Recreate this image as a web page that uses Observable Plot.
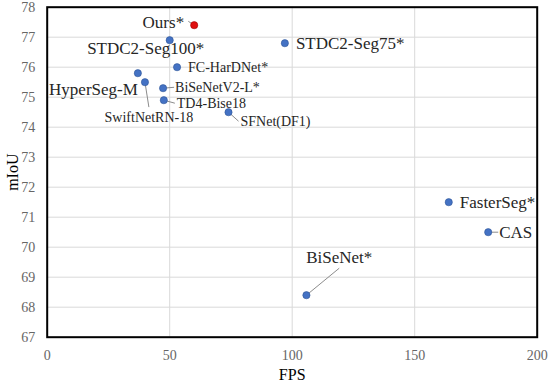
<!DOCTYPE html>
<html><head><meta charset="utf-8">
<script src="https://cdn.jsdelivr.net/npm/d3@7"></script>
<script src="https://cdn.jsdelivr.net/npm/@observablehq/plot@0.6"></script>
<style>
body{margin:0;background:#fff}
svg, svg text{font-family:"Liberation Serif","DejaVu Serif",serif !important}
svg [aria-label="x-axis label"] text, svg [aria-label="y-axis label"] text{fill:#000;font-size:16px}
</style>
</head><body><div id="chart"></div>
<script>
const models = ["Ours*","STDC2-Seg100*","STDC2-Seg75*","FC-HarDNet*","HyperSeg-M","SwiftNetRN-18","BiSeNetV2-L*","TD4-Bise18","SFNet(DF1)","FasterSeg*","CAS","BiSeNet*"];
const fps  = [60, 50, 97, 53, 37, 39.9, 47.3, 47.6, 74, 163.9, 180, 105.8];
const miou = [77.4, 76.9, 76.8, 76.0, 75.8, 75.5, 75.3, 74.9, 74.5, 71.5, 70.5, 68.4];
const xTicks = [0, 50, 100, 150, 200];
const yTicks = [67, 68, 69, 70, 71, 72, 73, 74, 75, 76, 77, 78];

// annotation layout (offsets in data units from each point)
const layout = {
  "Ours*":         {ox: -4.1, oy: 0.1,   anchor: "end",    size: 17, lead: [-2.4, 0.13]},
  "STDC2-Seg100*": {ox: -9.8, oy: -0.27, anchor: "middle", size: 17},
  "STDC2-Seg75*":  {ox: 4.5,  oy: 0,     anchor: "start",  size: 17},
  "FC-HarDNet*":   {ox: 4.5,  oy: 0,     anchor: "start",  size: 14},
  "HyperSeg-M":    {ox: 0,    oy: -0.53, anchor: "end",    size: 17},
  "SwiftNetRN-18": {ox: 1.6,  oy: -1.17, anchor: "middle", size: 14, lead: [1.6, -0.83]},
  "BiSeNetV2-L*":  {ox: 4.9,  oy: 0.03,  anchor: "start",  size: 14, lead: [4.5, 0.03]},
  "TD4-Bise18":    {ox: 5.3,  oy: -0.1,  anchor: "start",  size: 14, lead: [4.5, -0.1]},
  "SFNet(DF1)":    {ox: 4.9,  oy: -0.3,  anchor: "start",  size: 14, lead: [4.1, -0.3]},
  "FasterSeg*":    {ox: 4.5,  oy: 0,     anchor: "start",  size: 17},
  "CAS":           {ox: 4.5,  oy: 0,     anchor: "start",  size: 17, lead: [4.1, 0]},
  "BiSeNet*":      {ox: 13.4, oy: 1.27,  anchor: "middle", size: 17, lead: [13.4, 0.9]}
};

const data = models.map((m, i) => ({
  name: m, fps: fps[i], miou: miou[i], ours: i === 0,
  lx: fps[i] + layout[m].ox, ly: miou[i] + layout[m].oy,
  anchor: layout[m].anchor, size: layout[m].size,
  lead: layout[m].lead ? [fps[i] + layout[m].lead[0], miou[i] + layout[m].lead[1]] : null
}));
const leads = data.filter(d => d.lead);

const textMarks = ["start", "middle", "end"].map(a =>
  Plot.text(data.filter(d => d.anchor === a), {
    x: "lx", y: "ly", text: "name", textAnchor: a, fontSize: "size",
    fill: "#262626"
  })
);

const chart = Plot.plot({
  width: 550, height: 384,
  marginLeft: 46.7, marginRight: 13.3, marginTop: 6.7, marginBottom: 47.3,
  style: {fontSize: "14px", color: "#666666", background: "#fff"},
  x: {domain: [0, 200]},
  y: {domain: [67, 78]},
  marks: [
    Plot.gridX(xTicks, {stroke: "#d9d9d9", strokeOpacity: 1}),
    Plot.gridY(yTicks, {stroke: "#d9d9d9", strokeOpacity: 1}),
    Plot.axisX(xTicks, {tickSize: 0, tickPadding: 13, fontSize: 14, label: "FPS", labelAnchor: "center", labelOffset: 43, labelArrow: "none"}),
    Plot.axisY(yTicks, {tickSize: 0, tickPadding: 12, fontSize: 14, label: "mIoU", labelAnchor: "center", labelOffset: 41, labelArrow: "none"}),
    Plot.link(leads, {x1: "fps", y1: "miou", x2: d => d.lead[0], y2: d => d.lead[1], stroke: "#8c8c8c", strokeWidth: 1}),
    Plot.dot(data, {x: "fps", y: "miou", r: 3.6, fill: d => d.ours ? "#e01010" : "#4472c4", stroke: d => d.ours ? "#a00000" : "#2f5597", strokeWidth: 0.6}),
    ...textMarks,
    Plot.frame({stroke: "#000", strokeWidth: 2})
  ]
});
document.getElementById("chart").append(chart);
</script>
</body></html>
